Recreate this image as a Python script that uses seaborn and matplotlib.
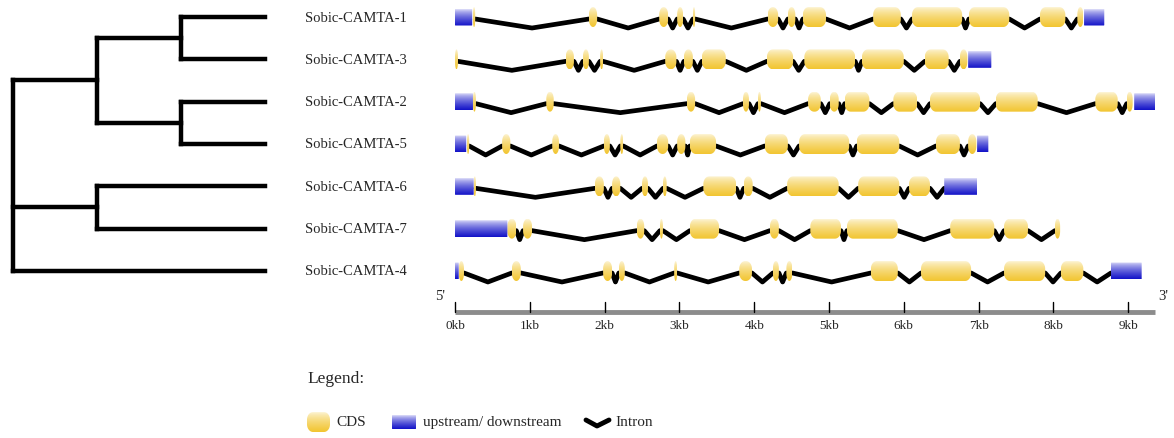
import numpy as np
import pandas as pd
import matplotlib
matplotlib.use("Agg")
import matplotlib.pyplot as plt
from matplotlib.patches import Polygon
import seaborn as sns

# gene order (top to bottom) as in the tree
genes = ["Sobic-CAMTA-1", "Sobic-CAMTA-3", "Sobic-CAMTA-2", "Sobic-CAMTA-5",
         "Sobic-CAMTA-6", "Sobic-CAMTA-7", "Sobic-CAMTA-4"]

# upstream/downstream regions (kb)
utr_1 = [(0.00, 0.23), (8.41, 8.68)]
utr_3 = [(6.86, 7.17)]
utr_2 = [(0.00, 0.24), (9.08, 9.36)]
utr_5 = [(0.00, 0.15), (6.98, 7.13)]
utr_6 = [(0.00, 0.25), (6.54, 6.98)]
utr_7 = [(0.00, 0.70)]
utr_4 = [(0.00, 0.05), (8.77, 9.18)]

# CDS exons (kb)
cds_1 = [(0.24, 0.27), (1.79, 1.90), (2.73, 2.85), (2.97, 3.05), (3.18, 3.21),
         (4.18, 4.32), (4.45, 4.55), (4.65, 4.96), (5.59, 5.96), (6.11, 6.78),
         (6.87, 7.41), (7.82, 8.16), (8.32, 8.40)]
cds_3 = [(0.00, 0.04), (1.48, 1.59), (1.71, 1.79), (1.94, 1.98), (2.81, 2.96),
         (3.06, 3.18), (3.30, 3.62), (4.17, 4.52), (4.67, 5.35), (5.44, 6.00),
         (6.28, 6.60), (6.75, 6.85)]
cds_2 = [(0.24, 0.28), (1.22, 1.32), (3.10, 3.21), (3.85, 3.93), (4.05, 4.09),
         (4.72, 4.89), (5.01, 5.13), (5.21, 5.54), (5.86, 6.18), (6.35, 7.02),
         (7.23, 7.79), (8.56, 8.86), (8.98, 9.06)]
cds_5 = [(0.16, 0.19), (0.63, 0.74), (1.30, 1.39), (1.99, 2.07), (2.21, 2.25),
         (2.70, 2.85), (2.97, 3.08), (3.14, 3.49), (4.14, 4.45), (4.60, 5.27),
         (5.37, 5.94), (6.43, 6.75), (6.86, 6.97)]
cds_6 = [(0.25, 0.28), (1.87, 1.99), (2.10, 2.21), (2.50, 2.58), (2.78, 2.83),
         (3.32, 3.76), (3.86, 3.98), (4.44, 5.13), (5.39, 5.94), (6.07, 6.35)]
cds_7 = [(0.70, 0.82), (0.91, 1.03), (2.43, 2.53), (2.74, 2.78), (3.14, 3.53),
         (4.21, 4.33), (4.75, 5.16), (5.24, 5.92), (6.62, 7.21), (7.34, 7.66),
         (8.02, 8.09)]
cds_4 = [(0.05, 0.12), (0.76, 0.88), (1.98, 2.10), (2.19, 2.27), (2.93, 2.97),
         (3.80, 3.97), (4.25, 4.33), (4.43, 4.51), (5.56, 5.92), (6.23, 6.90),
         (7.34, 7.89), (8.10, 8.40)]

utrs = [utr_1, utr_3, utr_2, utr_5, utr_6, utr_7, utr_4]
cdss = [cds_1, cds_3, cds_2, cds_5, cds_6, cds_7, cds_4]

ticks_kb = list(range(10))
tick_labels = [f"{t}kb" for t in ticks_kb]
scale_end = 9.36

# tree: (name, branch length, children)
tree = ("root", 0, [
    ("A", 1, [("A1", 1, [("Sobic-CAMTA-1", 1, []), ("Sobic-CAMTA-3", 1, [])]),
              ("A2", 1, [("Sobic-CAMTA-2", 1, []), ("Sobic-CAMTA-5", 1, [])])]),
    ("B", 1, [("Sobic-CAMTA-6", 2, []), ("Sobic-CAMTA-7", 2, [])]),
    ("Sobic-CAMTA-4", 3, []),
])

sns.set_theme(style="white")
plt.rcParams["font.family"] = ["Liberation Serif", "DejaVu Serif"]

W, H = 1174, 439
fig = plt.figure(figsize=(W / 100, H / 100), dpi=100)

# pixel -> figure fraction helpers
def fx(px):
    return px / W

def fy(py):
    return 1 - py / H

row_px = 42.33
ax_top_px, ax_bot_px = 0, 313
ylim = ((ax_bot_px - 18) / row_px, (ax_top_px - 18) / row_px)

# gene axes: x in kb
kb_px = 74.8
x_left_kb, x_right_kb = -0.2, 9.55
ax = fig.add_axes([fx(455 + x_left_kb * kb_px), fy(ax_bot_px),
                   (x_right_kb - x_left_kb) * kb_px / W, (ax_bot_px - ax_top_px) / H])
ax.set_xlim(x_left_kb, x_right_kb)
ax.set_ylim(*ylim)
ax.axis("off")

# px to data ratio for rounding
rx_unit = 1 / kb_px
ry_unit = 1 / row_px


def rounded_box(x0, x1, yc, h, r_px):
    w = x1 - x0
    rx = min(r_px * rx_unit, w / 2)
    ry = min(r_px * ry_unit * 1.3, h / 2)
    t = np.linspace(0, np.pi / 2, 12)
    y0, y1 = yc - h / 2, yc + h / 2
    pts = []
    for cx, cy, a0 in [(x1 - rx, y0 + ry, -np.pi / 2), (x1 - rx, y1 - ry, 0),
                       (x0 + rx, y1 - ry, np.pi / 2), (x0 + rx, y0 + ry, np.pi)]:
        a = a0 + t
        pts += list(zip(cx + rx * np.cos(a), cy + ry * np.sin(a)))
    return np.array(pts)


def gradient_box(axis, x0, x1, yc, h, r_px, top, bottom):
    poly = Polygon(rounded_box(x0, x1, yc, h, r_px), closed=True,
                   facecolor="none", edgecolor="none")
    axis.add_patch(poly)
    c0 = np.array(matplotlib.colors.to_rgb(top))
    c1 = np.array(matplotlib.colors.to_rgb(bottom))
    f = np.linspace(0, 1, 64) ** 0.7
    grad = (c0[None, :] * (1 - f[:, None]) + c1[None, :] * f[:, None])[:, None, :]
    im = axis.imshow(grad, extent=(x0, x1, yc + h / 2, yc - h / 2), origin="upper",
                     aspect="auto", interpolation="bilinear", zorder=3)
    im.set_clip_path(poly)


CDS_TOP, CDS_BOT = "#fdf6dc", "#f2c530"
UTR_TOP, UTR_BOT = "#e4e4fa", "#1212c8"
cds_h, utr_h = 20 / row_px, 17 / row_px

# intron V lines
rows = []
for i, (u, c) in enumerate(zip(utrs, cdss)):
    feats = sorted(u + c)
    for k in range(len(feats) - 1):
        a, b = feats[k][1], feats[k + 1][0]
        if b - a > 0.03:
            seg = f"{i}-{k}"
            rows += [(seg, a, i + 2 / row_px), (seg, (a + b) / 2, i + 11 / row_px),
                     (seg, b, i + 2 / row_px)]
introns = pd.DataFrame(rows, columns=["seg", "x", "y"])
sns.lineplot(data=introns, x="x", y="y", units="seg", estimator=None, sort=False,
             color="black", lw=3.4, ax=ax, zorder=2, legend=False)
ax.set_xlim(x_left_kb, x_right_kb)
ax.set_ylim(*ylim)
ax.axis("off")

for i, (u, c) in enumerate(zip(utrs, cdss)):
    for s, e in c:
        gradient_box(ax, s, e, i, cds_h, 6, CDS_TOP, CDS_BOT)
    for s, e in u:
        gradient_box(ax, s, e, i, utr_h, 0.5, UTR_TOP, UTR_BOT)

# scale bar
bar_y = ylim[0]
ax.plot([0, scale_end], [bar_y, bar_y], color="#8c8c8c", lw=3.5, clip_on=False,
        solid_capstyle="butt")
for t, lab in zip(ticks_kb, tick_labels):
    ax.plot([t, t], [bar_y, bar_y - 10 / row_px], color="black", lw=1, clip_on=False)
    ax.text(t, bar_y + 7 / row_px, lab, ha="center", va="top", fontsize=9.5)
ax.text(-0.2, bar_y - 16 / row_px, "5'", ha="center", va="center", fontsize=10.5)
ax.text(9.47, bar_y - 16 / row_px, "3'", ha="center", va="center", fontsize=10.5)

# gene names
for i, g in enumerate(genes):
    fig.text(fx(305), fy(18 + i * row_px), g, ha="left", va="center", fontsize=10.5)

# tree axes
tax = fig.add_axes([0, fy(ax_bot_px), fx(265), (ax_bot_px - ax_top_px) / H])
depth_px = 84
tax.set_xlim(-13 / depth_px, 252 / depth_px)
tax.set_ylim(*ylim)
tax.axis("off")

segs = []


def layout(node, x0):
    name, bl, kids = node
    x = x0 + bl
    if not kids:
        y = genes.index(name)
    else:
        ys = [layout(k, x) for k in kids]
        y = (ys[0] + ys[-1]) / 2
        segs.append((f"v-{name}", x, ys[0]))
        segs.append((f"v-{name}", x, ys[-1]))
    if bl:
        segs.append((f"h-{name}", x0, y))
        segs.append((f"h-{name}", x, y))
    return y


layout(tree, 0)
tdf = pd.DataFrame(segs, columns=["seg", "x", "y"])
sns.lineplot(data=tdf, x="x", y="y", units="seg", estimator=None, sort=False,
             color="black", lw=3.2, ax=tax, legend=False)
for line in tax.lines:
    line.set_clip_on(False)
    line.set_solid_capstyle("projecting")
tax.set_xlim(-13 / depth_px, 252 / depth_px)
tax.set_ylim(*ylim)
tax.axis("off")

# legend
lax = fig.add_axes([fx(290), 0, fx(420), fy(360)])
lax.set_xlim(290, 710)
lax.set_ylim(439, 360)
lax.axis("off")
lax.text(307, 379, "Legend:", ha="left", va="center", fontsize=12.5)
ly = 423
rx_unit, ry_unit = 1.0, 1.0
gradient_box(lax, 307, 330, ly, 20, 6, CDS_TOP, CDS_BOT)
lax.text(336, ly, "CDS", ha="left", va="center", fontsize=11)
gradient_box(lax, 392, 416, ly, 14, 0.5, UTR_TOP, UTR_BOT)
lax.text(423, ly, "upstream/ downstream", ha="left", va="center", fontsize=11)
lax.plot([586, 597, 609], [ly - 2, ly + 4, ly - 2], color="black", lw=3.5)
lax.text(615, ly, "Intron", ha="left", va="center", fontsize=11)
lax.set_xlim(290, 710)
lax.set_ylim(439, 360)

fig.savefig("out.png", dpi=100)
